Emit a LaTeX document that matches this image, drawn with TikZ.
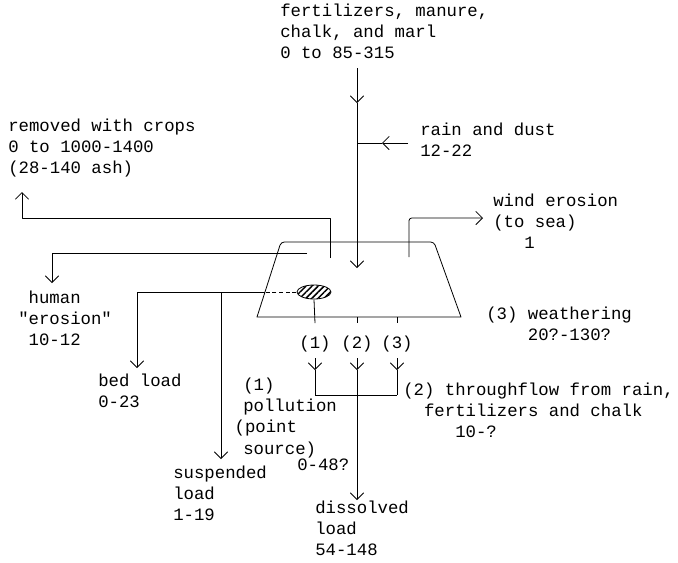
\documentclass[tikz,border=0pt]{standalone}
\usepackage{fontspec}
\usepackage{tikz}
\usetikzlibrary{arrows.meta, shapes.geometric, patterns.meta}
\newfontfamily\typefont{Liberation Mono}

\tikzset{
  txt/.style={font={\typefont\fontsize{13}{15.8}\selectfont}, inner sep=0pt,
              anchor=north west, align=left},
  flow/.style={-{Straight Barb[length=5pt, width=10pt]}, line width=0.6pt},
  edge/.style={line width=0.6pt}
}

\begin{document}
\begin{tikzpicture}[x=0.75pt, y=-0.75pt, line join=round]
  \useasboundingbox (0,0) rectangle (678,562);

  % ── Labels ──────────────────────────────────────────────────────
  \node[txt] (fert) at (280,4) {fertilizers, manure,\\chalk, and marl\\0 to 85-315};
  \node[txt] (rain) at (420,123) {rain and dust\\12-22};
  \node[txt] (crops) at (8,119) {removed with crops\\0 to 1000-1400\\(28-140 ash)};
  \node[txt] (wind) at (493,194) {wind erosion\\(to sea)\\\phantom{(to}1};
  \node[txt] (human) at (18,291) {\phantom{h}human\\"erosion"\\\phantom{h}10-12};
  \node[txt] (bed) at (98,374) {bed load\\0-23};
  \node[txt] (susp) at (173,466) {suspended\\load\\1-19};
  \node[txt] (poll) at (243,378) {(1)\\pollution\\\hspace*{-6.5pt}(point\\source)};
  \node[txt] (pollval) at (297,459) {0-48?};
  \node[txt] (diss) at (315,501) {dissolved\\load\\54-148};
  \node[txt] (weath) at (486,307) {(3) weathering\\\phantom{(3)x}20?-130?};
  \node[txt] (thru) at (403,383) {(2) throughflow from rain,\\\phantom{xx}fertilizers and chalk\\\phantom{xxxxx}10-?};

  % ── Outlets under the soil box ─────────────────────────────────
  \foreach \x/\n in {315/1, 357/2, 397/3}{
    \node[txt, anchor=center] (o\n) at (\x,344) {(\n)};
    \coordinate (t\n) at (\x,317);
    \coordinate (s\n) at (\x,323);
    \coordinate (a\n) at (\x,358);
    \coordinate (m\n) at (\x,370);
    \coordinate (j\n) at (\x,395);
  }

  % ── Soil box (trapezoid) ───────────────────────────────────────
  \coordinate (tl) at (281,242);
  \coordinate (tr) at (434,242);
  \coordinate (br) at (461,317);
  \coordinate (bl) at (257,317);
  \draw[edge] (bl) [rounded corners=2.5pt] -- (tl) -- (tr) [sharp corners] -- (br) -- cycle;

  % point source
  \node[draw, line width=0.6pt, ellipse, minimum width=25.5pt, minimum height=10.5pt,
        inner sep=0pt, pattern={Lines[angle=45, distance=3.2pt, line width=1.1pt]}]
        (src) at (314,292) {};

  % ── Inputs from above ──────────────────────────────────────────
  \coordinate (fertout) at (357,68);
  \coordinate (fertmid) at (357,103);
  \coordinate (soilin) at (357,268);
  \draw[flow] (fertout) -- (fertmid);
  \draw[flow] (fertmid) -- (soilin);

  \coordinate (rainout) at (408,143);
  \coordinate (rainmid) at (382,143);
  \coordinate (rainjoin) at (357,143);
  \draw[flow] (rainout) -- (rainmid);
  \draw[edge] (rainmid) -- (rainjoin);

  % ── Removal by crops and wind ──────────────────────────────────
  \coordinate (cropsrc) at (330,258);
  \coordinate (cropup) at (330,218);
  \coordinate (cropleft) at (22,218);
  \coordinate (croptip) at (22,192);
  \draw[flow] (cropsrc) -- (cropup) -- (cropleft) -- (croptip);

  \coordinate (windsrc) at (409,257);
  \coordinate (windup) at (409,218);
  \coordinate (windtip) at (483,218);
  \draw[flow, rounded corners=2pt] (windsrc) -- (windup) -- (windtip);

  % ── Human erosion ──────────────────────────────────────────────
  \coordinate (humsrc) at (307,253);
  \coordinate (humleft) at (52,253);
  \coordinate (humtip) at (52,283);
  \draw[flow] (humsrc) -- (humleft) -- (humtip);

  % ── Bed and suspended load ─────────────────────────────────────
  \coordinate (edgehit) at (265,292);
  \coordinate (bedleft) at (137,292);
  \coordinate (bedtip) at (137,368);
  \coordinate (susptop) at (221,292);
  \coordinate (susptip) at (221,459);
  \draw[edge, dash pattern=on 3pt off 2pt] (src.west) -- (edgehit);
  \draw[flow] (edgehit) -- (bedleft) -- (bedtip);
  \draw[flow] (susptop) -- (susptip);

  % ── Solution outlets ───────────────────────────────────────────
  \draw[edge] (src.south) -- (s1);
  \draw[edge] (t2) -- (s2);
  \draw[edge] (t3) -- (s3);
  \foreach \n in {1,2,3}{
    \draw[flow] (a\n) -- (m\n);
    \draw[edge] (m\n) -- (j\n);
  }
  \draw[edge] (j1) -- (j3);
  \coordinate (disstip) at (357,500);
  \draw[flow] (j2) -- (disstip);
\end{tikzpicture}
\end{document}
